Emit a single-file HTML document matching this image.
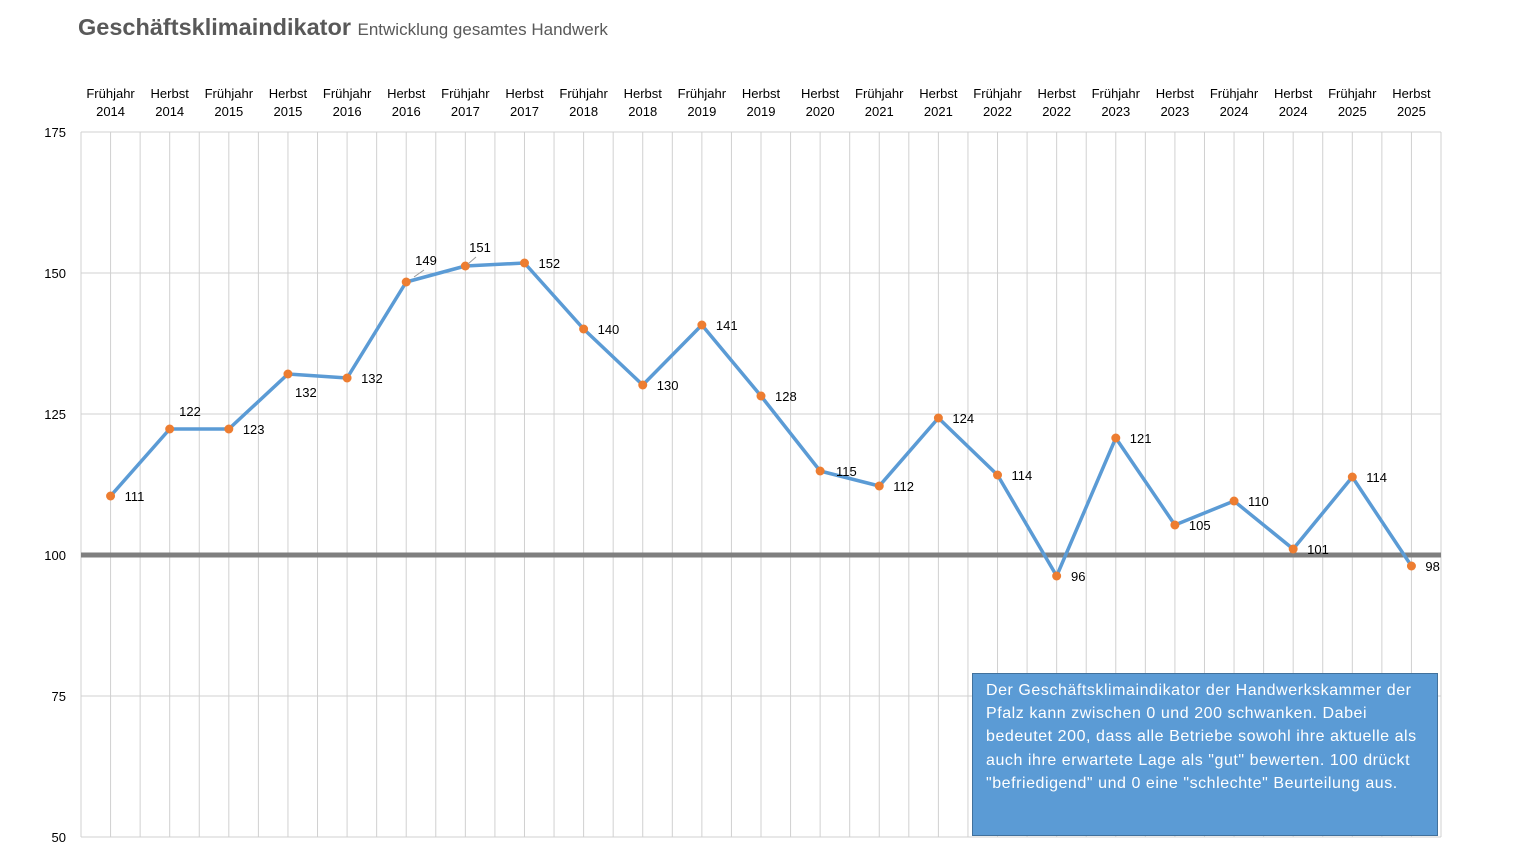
<!DOCTYPE html>
<html><head><meta charset="utf-8"><style>
html,body{margin:0;padding:0;background:#fff;width:1520px;height:855px;overflow:hidden;font-family:"Liberation Sans",sans-serif;}
svg{position:absolute;left:0;top:0}
.note{position:absolute;left:972px;top:673px;width:466px;height:163px;background:#5b9bd5;border:1px solid #41719c;box-sizing:border-box;color:#fff;font-size:16px;line-height:23.2px;padding:5px 0 0 13px;white-space:nowrap;letter-spacing:0.55px;}
</style></head><body>
<svg id="c" width="1520" height="855" xmlns="http://www.w3.org/2000/svg" font-family="Liberation Sans, sans-serif">
<text x="78" y="35" font-size="23.5" font-weight="bold" fill="#595959">Geschäftsklimaindikator <tspan font-size="17" font-weight="normal">Entwicklung gesamtes Handwerk</tspan></text>
</svg>
<div class="note">Der Geschäftsklimaindikator der Handwerkskammer der<br>Pfalz kann zwischen 0 und 200 schwanken. Dabei<br>bedeutet 200, dass alle Betriebe sowohl ihre aktuelle als<br>auch ihre erwartete Lage als "gut" bewerten. 100 drückt<br>"befriedigend" und 0 eine "schlechte" Beurteilung aus.</div>
<script>
var s=document.getElementById('c'),h='';
var L=81,R=1441,W=(R-L)/23;
for(var k=0;k<=46;k++){var x=L+k*W/2;h+='<line x1="'+x+'" y1="132" x2="'+x+'" y2="837" stroke="#d0d0d0" stroke-width="1"/>';}
var yt=[[175,132],[150,273],[125,414],[100,555],[75,696],[50,837]];
yt.forEach(function(t){if(t[0]!=100)h+='<line x1="'+L+'" y1="'+t[1]+'" x2="'+R+'" y2="'+t[1]+'" stroke="#d0d0d0"/>';h+='<text x="66" y="'+(t[1]+5)+'" font-size="13" text-anchor="end" fill="#000">'+t[0]+'</text>';});
h+='<line x1="'+L+'" y1="555" x2="'+R+'" y2="555" stroke="#7f7f7f" stroke-width="5"/>';
var cats=["Frühjahr 2014","Herbst 2014","Frühjahr 2015","Herbst 2015","Frühjahr 2016","Herbst 2016","Frühjahr 2017","Herbst 2017","Frühjahr 2018","Herbst 2018","Frühjahr 2019","Herbst 2019","Herbst 2020","Frühjahr 2021","Herbst 2021","Frühjahr 2022","Herbst 2022","Frühjahr 2023","Herbst 2023","Frühjahr 2024","Herbst 2024","Frühjahr 2025","Herbst 2025"];
var ys=[496,429,429,374,378,282,266,263,329,385,325,396,471,486,418,475,576,438,525,501,549,477,566];
var vals=[111,122,123,132,132,149,151,152,140,130,141,128,115,112,124,114,96,121,105,110,101,114,98];
var lab={1:[190,416],3:[295,397],5:[426,265],6:[480,252],12:[836,476],16:[1071,581]};
var pts=[];
cats.forEach(function(c,i){var x=L+W*(i+0.5);var p=c.split(' ');
h+='<text x="'+x+'" y="98" font-size="13" text-anchor="middle">'+p[0]+'</text><text x="'+x+'" y="116" font-size="13" text-anchor="middle">'+p[1]+'</text>';
pts.push(x+','+ys[i]);});
h+='<polyline points="'+pts.join(' ')+'" fill="none" stroke="#5b9bd5" stroke-width="3.5" stroke-linejoin="round"/>';
cats.forEach(function(c,i){var x=L+W*(i+0.5);h+='<circle cx="'+x+'" cy="'+ys[i]+'" r="4.5" fill="#ed7d31"/>';
var lp=lab[i]||[x+14,ys[i]+5];var a=lab[i]&&i!=12&&i!=16&&i!=3?'middle':'start';
h+='<text x="'+lp[0]+'" y="'+lp[1]+'" font-size="13" text-anchor="'+a+'">'+vals[i]+'</text>';});
h+='<line x1="414" y1="277" x2="424" y2="270" stroke="#999"/><line x1="468" y1="264" x2="476" y2="257" stroke="#999"/>';
s.insertAdjacentHTML('beforeend',h);
</script>
</body></html>
